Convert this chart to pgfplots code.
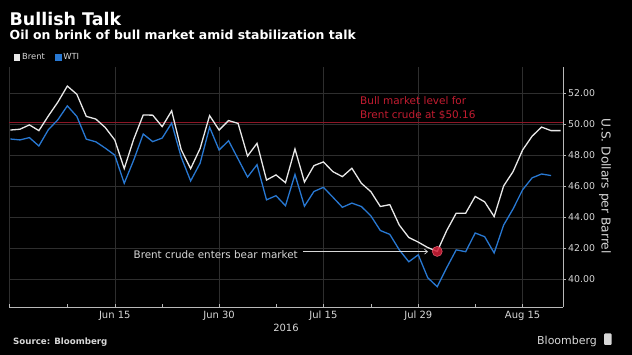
\documentclass[border=0pt]{standalone}
\usepackage{fontspec}
\setmainfont{DejaVu Sans}
\usepackage{pgfplots}
\pgfplotsset{compat=1.18}
\usetikzlibrary{arrows.meta}
\definecolor{brent}{RGB}{232,232,232}
\definecolor{wti}{RGB}{40,120,210}
\definecolor{gridc}{RGB}{46,46,46}
\definecolor{axc}{RGB}{185,185,185}
\definecolor{lab}{RGB}{215,215,215}
\definecolor{bull}{RGB}{140,22,38}
\definecolor{bulltxt}{RGB}{195,28,48}
\definecolor{dot}{RGB}{210,30,55}
\begin{document}
\begin{tikzpicture}
\fill[black] (0,0) rectangle (632bp,355bp);
\node[anchor=base west, inner sep=0, text=white, font=\fontsize{17.5}{20}\selectfont\bfseries] at (9.5bp,329bp) {Bullish Talk};
\node[anchor=base west, inner sep=0, text=white, font=\fontsize{12.5}{15}\selectfont\bfseries] at (9.5bp,315.5bp) {Oil on brink of bull market amid stabilization talk};
\begin{axis}[
  at={(9bp,48bp)}, anchor=south west, scale only axis,
  width=554bp, height=240bp,
  xmin=-0.15, xmax=58.26, ymin=38.21, ymax=53.71,
  axis x line*=bottom, axis y line*=right,
  axis line style={axc, line width=0.6bp},
  xtick={11,22,33,43,54},
  xticklabels={Jun 15,Jun 30,Jul 15,Jul 29,Aug 15},
  minor xtick={6,16,28,38,49},
  extra x ticks={-0.15}, extra x tick labels={},
  extra x tick style={grid=major},
  ytick={40,42,44,46,48,50,52},
  xmajorgrids, ymajorgrids,
  grid style={gridc, line width=0.5bp},
  tick style={axc, line width=0.5bp},
  tick align=inside,
  major tick length=3bp, minor tick length=3bp,
  y tick style={xshift=3bp},
  /pgf/number format/fixed, /pgf/number format/fixed zerofill,
  /pgf/number format/precision=2, /pgf/number format/assume math mode=true,
  yticklabel style={font=\fontsize{9.4}{11}\selectfont, text=lab, anchor=west, inner sep=0, xshift=5bp},
  xticklabel style={font=\fontsize{10}{12}\selectfont, text=lab, anchor=base, inner sep=0, yshift=-11bp},
  xlabel={2016},
  every axis x label/.style={at={(rel axis cs:0.5,0)}, anchor=base, yshift=-24bp, font=\fontsize{10}{12}\selectfont, text=lab, inner sep=0},
  legend columns=2,
  legend style={at={(rel axis cs:0,1)}, anchor=west, xshift=5bp, yshift=9.5bp, draw=none, fill=none, text=lab, font=\fontsize{8.4}{9}\selectfont, inner sep=0pt, row sep=0pt, cells={anchor=west}, nodes={inner sep=1.6bp}, /tikz/every even column/.append style={column sep=9bp}},
  legend image code/.code={\fill[#1] (0bp,-2.5bp) rectangle (5bp,2.5bp);},
]
\addplot[bull, line width=0.8bp, forget plot] coordinates {(-0.15,50.16) (58.26,50.16)};
\addplot[brent, line width=1.3bp] coordinates {
(0,49.64) (1,49.69) (2,49.97) (3,49.60) (4,50.55) (5,51.44) (6,52.48) (7,51.95) (8,50.52) (9,50.35)
(10,49.80) (11,49.00) (12,47.15) (13,49.05) (14,50.61) (15,50.60) (16,49.86) (17,50.88) (18,48.38) (19,47.14)
(20,48.45) (21,50.57) (22,49.64) (23,50.25) (24,50.07) (25,47.96) (26,48.78) (27,46.41) (28,46.74) (29,46.24)
(30,48.42) (31,46.28) (32,47.34) (33,47.58) (34,46.95) (35,46.63) (36,47.17) (37,46.20) (38,45.66) (39,44.70)
(40,44.82) (41,43.50) (42,42.70) (43,42.40) (44,42.05) (45,41.80) (46,43.15) (47,44.27) (48,44.27) (49,45.35)
(50,45.00) (51,44.05) (52,46.03) (53,46.96) (54,48.35) (55,49.24) (56,49.83) (57,49.60) (58,49.60)};
\addlegendentry{Brent}
\addplot[wti, line width=1.3bp] coordinates {
(0,49.06) (1,49.00) (2,49.15) (3,48.61) (4,49.66) (5,50.30) (6,51.20) (7,50.52) (8,49.05) (9,48.88)
(10,48.47) (11,48.02) (12,46.20) (13,47.70) (14,49.38) (15,48.89) (16,49.12) (17,50.09) (18,47.90) (19,46.35)
(20,47.50) (21,49.82) (22,48.35) (23,48.95) (25,46.60) (26,47.40) (27,45.13) (28,45.40) (29,44.75)
(30,46.77) (31,44.72) (32,45.67) (33,45.94) (34,45.30) (35,44.65) (36,44.92) (37,44.70) (38,44.10) (39,43.15)
(40,42.90) (41,41.90) (42,41.13) (43,41.58) (44,40.10) (45,39.52) (46,40.75) (47,41.90) (48,41.78) (49,42.99)
(50,42.75) (51,41.70) (52,43.50) (53,44.55) (54,45.78) (55,46.55) (56,46.80) (57,46.70)};
\addlegendentry{WTI}
\addplot[only marks, mark=*, mark size=5bp, mark options={fill=dot, draw=dot!75!white, fill opacity=0.85, line width=0.6bp}, forget plot] coordinates {(45,41.80)};
\end{axis}
\node[anchor=base west, inner sep=0, text=bulltxt, font=\fontsize{10.5}{12}\selectfont] at (360bp,250bp) {Bull market level for};
\node[anchor=base west, inner sep=0, text=bulltxt, font=\fontsize{10.5}{12}\selectfont] at (360bp,236.7bp) {Brent crude at \$50.16};
\node[anchor=base east, inner sep=0, text=lab, font=\fontsize{10.4}{12}\selectfont] at (298bp,96.7bp) {Brent crude enters bear market};
\draw[lab, line width=0.7bp, -{Straight Barb[length=3bp,width=5bp]}] (303bp,103.3bp) -- (428bp,103.3bp);
\node[rotate=-90, anchor=center, inner sep=0, text=lab, font=\fontsize{12.3}{14}\selectfont] at (605bp,169bp) {U.S. Dollars per Barrel};
\node[anchor=base west, inner sep=0, text=lab, font=\fontsize{8.7}{10}\selectfont\bfseries] at (13bp,11bp) {Source: Bloomberg};
\node[anchor=base west, inner sep=0, text=lab, font=\fontsize{11}{13}\selectfont] at (537bp,11bp) {Bloomberg};
\fill[lab, rounded corners=1bp] (604bp,10bp) rectangle (611.5bp,21.5bp);
\pgfresetboundingbox
\useasboundingbox (0,0) rectangle (632bp,355bp);
\end{tikzpicture}
\end{document}
